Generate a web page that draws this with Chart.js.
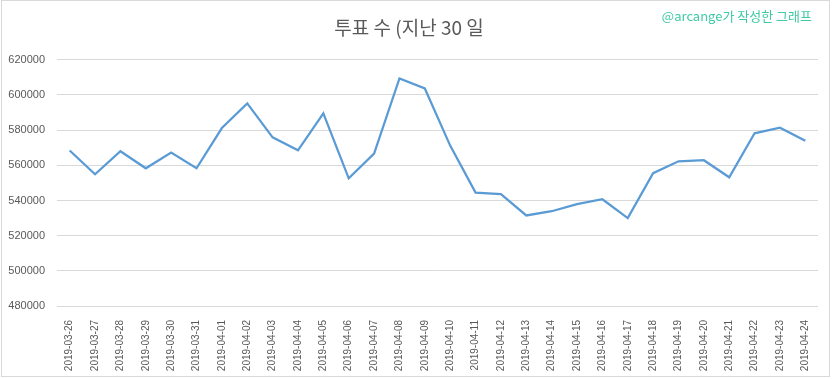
<!DOCTYPE html>
<html>
<head>
<meta charset="utf-8">
<script src="https://cdn.jsdelivr.net/npm/chart.js@4/dist/chart.umd.min.js"></script>
<style>
  html, body { margin: 0; padding: 0; background: #fff; }
  #wrap { width: 832px; height: 379px; }
</style>
</head>
<body>
<div id="wrap"><canvas id="votesChart" width="832" height="379"></canvas></div>
<script>
let dates = ["2019-03-26","2019-03-27","2019-03-28","2019-03-29","2019-03-30","2019-03-31",
  "2019-04-01","2019-04-02","2019-04-03","2019-04-04","2019-04-05","2019-04-06","2019-04-07",
  "2019-04-08","2019-04-09","2019-04-10","2019-04-11","2019-04-12","2019-04-13","2019-04-14",
  "2019-04-15","2019-04-16","2019-04-17","2019-04-18","2019-04-19","2019-04-20","2019-04-21",
  "2019-04-22","2019-04-23","2019-04-24"];
let votes = [568400, 554900, 568000, 558300, 567200, 558300, 581200, 595200, 575900, 568500,
  589500, 552600, 566700, 609400, 603700, 571200, 544500, 543600, 531500, 533900,
  537900, 540700, 530000, 555500, 562300, 562900, 553200, 578200, 581400, 574000];
let yTicks = [480000, 500000, 520000, 540000, 560000, 580000, 600000, 620000];

let titleText = "투표 수 (지난 30 일";
let credit = "@arcange가 작성한 그래프";

// white background, thin frame and the credit text in the corner
const framePlugin = {
  id: "frame",
  beforeDraw(chart){
    const c = chart.ctx;
    c.save();
    c.fillStyle = "#fff";
    c.fillRect(0, 0, chart.width, chart.height);
    c.restore();
  },
  afterDraw(chart){
    const c = chart.ctx;
    c.save();
    c.strokeStyle = "#d9d9d9";
    c.lineWidth = 1;
    c.strokeRect(1.5, 0.5, chart.width - 4, chart.height - 3);
    c.fillStyle = "#3fcaa3";
    c.font = "13px 'Noto Sans CJK KR', 'Liberation Sans', sans-serif";
    c.textAlign = "right";
    c.textBaseline = "middle";
    c.fillText(credit, 812, 16);
    c.restore();
  }
};

new Chart("votesChart", {
  type: "line",
  data: {
    labels: dates,
    datasets: [{
      data: votes,
      borderColor: "#5b9bd5",
      borderWidth: 2.25,
      pointRadius: 0,
      tension: 0,
      fill: false
    }]
  },
  options: {
    responsive: false,
    animation: false,
    layout: { padding: { left: 0, right: 14, top: 0, bottom: 0 } },
    plugins: {
      legend: { display: false },
      tooltip: { enabled: false },
      title: {
        display: true,
        text: titleText,
        color: "#595959",
        font: { family: "'Noto Sans CJK KR', sans-serif", size: 19, weight: "normal" },
        padding: { top: 16, bottom: 21 }
      }
    },
    scales: {
      x: {
        offset: true,
        grid: { display: false },
        border: { display: false },
        ticks: {
          autoSkip: false,
          minRotation: 90,
          maxRotation: 90,
          padding: 6,
          color: "#595959",
          font: { family: "'Liberation Sans', sans-serif", size: 10 }
        },
        afterFit(scale){ scale.height = 73; }
      },
      y: {
        min: yTicks[0],
        max: yTicks[yTicks.length - 1],
        afterBuildTicks(scale){ scale.ticks = yTicks.map(v => ({ value: v })); },
        grid: { color: "#d9d9d9", lineWidth: 1, drawTicks: false },
        border: { display: false },
        ticks: {
          padding: 12,
          color: "#595959",
          font: { family: "'Liberation Sans', sans-serif", size: 11 },
          callback: v => String(v)
        },
        afterFit(scale){ scale.width = 57; }
      }
    }
  },
  plugins: [framePlugin]
});
</script>
</body>
</html>
